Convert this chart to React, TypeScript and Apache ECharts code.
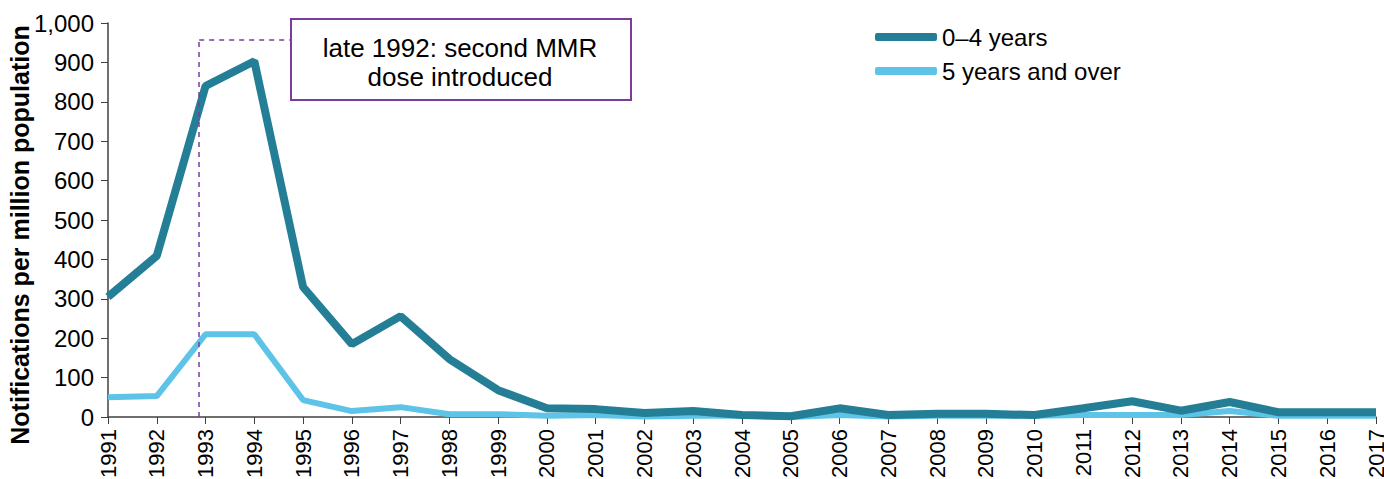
import React, { useEffect, useRef } from "react";
import * as echarts from "echarts";

const years = [1991,1992,1993,1994,1995,1996,1997,1998,1999,2000,2001,2002,2003,2004,2005,2006,2007,2008,2009,2010,2011,2012,2013,2014,2015,2016,2017];
const young = [305,409,840,903,330,185,256,147,68,22,20,10,15,5,2,22,5,8,8,5,22,40,16,38,12,12,12];
const older = [50,53,210,210,43,15,25,7,7,3,5,1,3,3,0,5,1,3,3,3,5,5,5,15,3,3,3];
const seriesNames = ["0\u20134 years", "5 years and over"];
const yTicks = [0, 100, 200, 300, 400, 500, 600, 700, 800, 900, 1000];
const annotationText = ["late 1992: second MMR", "dose introduced"];
const doseYear = 1992.87;
const markerLevel = 957;
const markerEndYear = 1994.73;

export default function App() {
  const ref = useRef<HTMLDivElement>(null);
  useEffect(() => {
    if (!ref.current) return;
    const chart = echarts.init(ref.current, null, { renderer: "svg" });
    const font = "Liberation Sans, Arial, sans-serif";
    chart.setOption({
      animation: false,
      textStyle: { fontFamily: font },
      grid: { left: 108, right: 8, top: 23, bottom: 62, containLabel: false, outerBoundsMode: "none" },
      legend: {
        orient: "vertical",
        left: 870,
        top: 20,
        itemWidth: 62,
        itemHeight: 8,
        itemGap: 10,
        icon: "roundRect",
        textStyle: { fontSize: 24, color: "#000", fontFamily: font },
        data: seriesNames,
      },
      xAxis: {
        type: "value",
        min: 1991,
        max: 2017,
        interval: 1,
        splitLine: { show: false },
        axisLine: { lineStyle: { color: "#404040", width: 1.5 } },
        axisTick: { length: 7, lineStyle: { color: "#404040" } },
        axisLabel: { rotate: 90, fontSize: 22, color: "#000", margin: 12, formatter: (v: number) => String(v) },
      },
      yAxis: {
        type: "value",
        min: yTicks[0],
        max: yTicks[yTicks.length - 1],
        interval: 100,
        name: "Notifications per million population",
        nameLocation: "middle",
        nameGap: 76,
        nameMoveOverlap: false,
        nameTextStyle: { fontSize: 25, fontWeight: "bold", color: "#000", fontFamily: font, padding: [0, 30, 0, 0] },
        splitLine: { show: false },
        axisLine: { show: true, lineStyle: { color: "#404040", width: 1.5 } },
        axisTick: { show: true, length: 7, lineStyle: { color: "#404040" } },
        axisLabel: {
          fontSize: 24,
          color: "#000",
          margin: 14,
          formatter: (v: number) => v.toLocaleString("en-US"),
        },
      },
      series: [
        {
          name: seriesNames[1],
          type: "line",
          data: years.map((y, i) => [y, older[i]]),
          symbol: "none",
          itemStyle: { color: "#5dc3e7" },
          lineStyle: { width: 6, color: "#5dc3e7" },
          z: 2,
        },
        {
          name: seriesNames[0],
          type: "line",
          data: years.map((y, i) => [y, young[i]]),
          symbol: "none",
          itemStyle: { color: "#247e96" },
          lineStyle: { width: 8, color: "#247e96" },
          z: 3,
          markLine: {
            silent: true,
            symbol: "none",
            label: { show: false },
            lineStyle: { type: [5, 5], color: "#7a3d9c", width: 1.5 },
            data: [
              [{ coord: [doseYear, 0] }, { coord: [doseYear, markerLevel] }],
              [{ coord: [doseYear, markerLevel] }, { coord: [markerEndYear, markerLevel] }],
            ],
          },
        },
      ],
      graphic: [
        {
          type: "rect",
          left: 290,
          top: 18,
          shape: { width: 340, height: 81 },
          style: { fill: "#fff", stroke: "#7a3d9c", lineWidth: 2 },
          z: 10,
        },
        {
          type: "text",
          x: 460,
          y: 48,
          z: 11,
          style: {
            text: annotationText[0],
            fontSize: 26,
            fontFamily: font,
            fill: "#000",
            align: "center",
            verticalAlign: "middle",
          },
        },
        {
          type: "text",
          x: 460,
          y: 77,
          z: 11,
          style: {
            text: annotationText[1],
            fontSize: 26,
            fontFamily: font,
            fill: "#000",
            align: "center",
            verticalAlign: "middle",
          },
        },
      ],
    });
    return () => chart.dispose();
  }, []);
  return <div ref={ref} style={{ width: 1384, height: 479, position: "absolute", left: 0, top: 0 }} />;
}
